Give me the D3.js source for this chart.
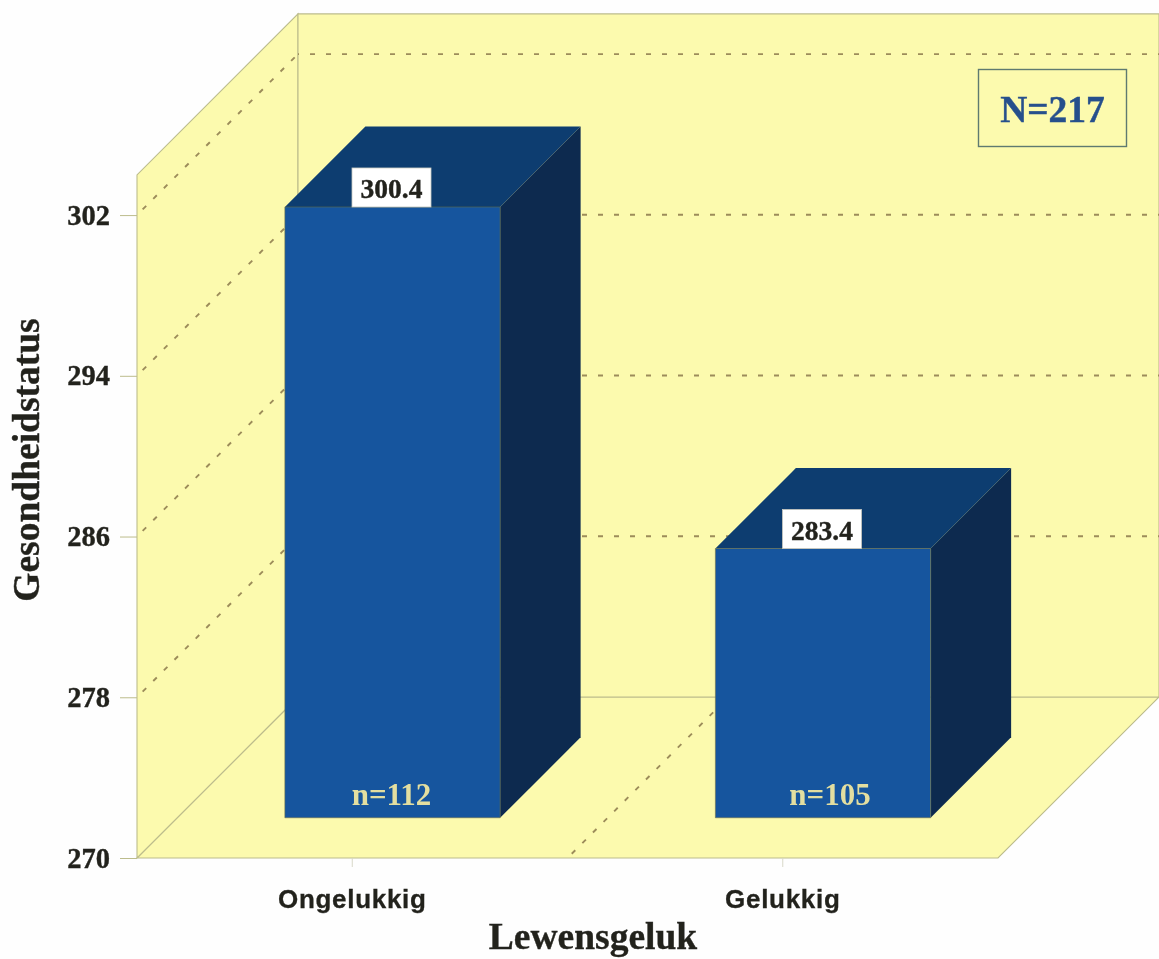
<!DOCTYPE html>
<html><head><meta charset="utf-8">
<script src="https://cdn.jsdelivr.net/npm/d3@7"></script>
<style>html,body{margin:0;padding:0;background:#fefefe}svg{display:block}</style>
</head><body><svg id="c" width="1159" height="959"></svg>
<script>
const categories = ["Ongelukkig", "Gelukkig"];
const values = [300.4, 283.4];
const valueLabels = ["300.4", "283.4"];
const counts = ["n=112", "n=105"];
const yTicks = [270, 278, 286, 294, 302];
const gridValues = [278, 286, 294, 302];
const axisFloor = 270, wallTop = 304;
const totalLabel = "N=217";
const xTitle = "Lewensgeluk", yTitle = "Gesondheidstatus";

const COL = {wall:"#fcfaae", edge:"#bcbc8c", dash:"#9c8c5a", front:"#12559e", top:"#0a3d70", side:"#0d2c50", ink:"#24241f", count:"#e3dea0"};
const SERIF = "'Liberation Serif', serif", SANS = "'Liberation Sans', sans-serif";
const countShift = {"Ongelukkig":0, "Gelukkig":8};

const svg = d3.select("#c");
const x = d3.scaleBand().domain(categories).range([137, 998]).paddingInner(0.5).paddingOuter(0.25);
const y = d3.scaleLinear().domain([axisFloor, wallTop]).range([858, 174.9]);
const depth = d3.scaleLinear().domain([0, 1]).range([0, 161]);
const P = (px, v, z) => [px + depth(z), y(v) - depth(z)];
const poly = pts => d3.line()(pts) + "Z";
const xL = x.range()[0], xR = x.range()[1], xMid = (xL + xR) / 2;

const root = svg.append("g").attr("filter", "url(#soft)");
svg.append("defs").append("filter").attr("id", "soft")
  .attr("filterUnits", "userSpaceOnUse").attr("x", 0).attr("y", 0).attr("width", 1159).attr("height", 959)
  .append("feGaussianBlur").attr("stdDeviation", 0.45);

// walls and floor
[[P(xL,axisFloor,0),P(xL,axisFloor,1),P(xR,axisFloor,1),P(xR,axisFloor,0)],
 [P(xL,axisFloor,0),P(xL,wallTop,0),P(xL,wallTop,1),P(xL,axisFloor,1)],
 [P(xL,axisFloor,1),P(xL,wallTop,1),P(xR,wallTop,1),P(xR,axisFloor,1)]].forEach(pts =>
  root.append("path").attr("d", poly(pts)).attr("fill", COL.wall).attr("stroke", COL.edge).attr("stroke-width", 1.1));

// dashed grid
const dash = root.append("g").attr("fill","none").attr("stroke",COL.dash).attr("stroke-width",1.9).attr("stroke-dasharray","5 11");
gridValues.forEach(v => {
  dash.append("path").attr("d", d3.line()([P(xL,v,0),P(xL,v,1)])).attr("stroke-dasharray","5 10").attr("stroke-dashoffset",-8);
  dash.append("path").attr("d", d3.line()([P(xL,v,1),P(xR,v,1)])).attr("stroke-dashoffset",-12);
});
dash.append("path").attr("d", d3.line()([P(xMid,axisFloor,0),P(xMid,axisFloor,1)])).attr("stroke-dasharray","5 10").attr("stroke-dashoffset",-6);

// axes
const yAxis = root.append("g").attr("transform",`translate(${xL},0)`)
  .call(d3.axisLeft(y).tickValues(yTicks).tickFormat(d3.format("d")).tickSize(17).tickPadding(10));
yAxis.select(".domain").remove();
yAxis.selectAll("line").attr("stroke",COL.edge).attr("stroke-width",1);
yAxis.selectAll("text").attr("font-family",SERIF).attr("font-weight","bold").attr("font-size",28.5).attr("fill",COL.ink).attr("stroke",COL.ink).attr("stroke-width",0.35);

const xAxis = root.append("g").attr("transform","translate(0,858)")
  .call(d3.axisBottom(x).tickSize(9).tickPadding(23));
xAxis.select(".domain").remove();
xAxis.selectAll("line").attr("stroke","#d8d8c8").attr("stroke-width",1);
xAxis.selectAll("text").attr("font-family",SANS).attr("font-weight","bold").attr("font-size",26).attr("fill",COL.ink).attr("letter-spacing",0.7).attr("stroke",COL.ink).attr("stroke-width",0.3);

// bars
const bars = root.selectAll("g.bar").data(categories.map((c,i)=>({c,v:values[i],lab:valueLabels[i],n:counts[i]}))).join("g").attr("class","bar");
const L = d => x(d.c), R = d => x(d.c)+x.bandwidth();
const z0 = 0.25, z1 = 0.75;
bars.append("path").attr("fill",COL.top).attr("d",d=>poly([P(L(d),d.v,z0),P(R(d),d.v,z0),P(R(d),d.v,z1),P(L(d),d.v,z1)]));
bars.append("path").attr("fill",COL.side).attr("d",d=>poly([P(R(d),axisFloor,z0),P(R(d),d.v,z0),P(R(d),d.v,z1),P(R(d),axisFloor,z1)]));
bars.append("path").attr("fill",COL.front).attr("stroke","#6d6f4a").attr("stroke-width",0.6).attr("d",d=>poly([P(L(d),axisFloor,z0),P(L(d),d.v,z0),P(R(d),d.v,z0),P(R(d),axisFloor,z0)]));

const cx = d => (L(d)+R(d))/2 + depth(z0) - 1;
bars.append("rect").attr("x",d=>cx(d)-39.5).attr("width",79).attr("height",39)
  .attr("y",d=>P(0,d.v,z0)[1]-39).attr("fill","#fff").attr("stroke","#c9c9c0").attr("stroke-width",0.8);
bars.append("text").text(d=>d.lab).attr("x",d=>cx(d)).attr("y",d=>P(0,d.v,z0)[1]-9)
  .attr("text-anchor","middle").attr("font-family",SERIF).attr("font-weight","bold").attr("font-size",27.5).attr("fill",COL.ink).attr("stroke",COL.ink).attr("stroke-width",0.4);
bars.append("text").text(d=>d.n).attr("x",d=>cx(d)+countShift[d.c]).attr("y",d=>P(0,axisFloor,z0)[1]-13)
  .attr("text-anchor","middle").attr("font-family",SERIF).attr("font-weight","bold").attr("font-size",31).attr("fill",COL.count);

// N box
root.append("rect").attr("x",978.5).attr("y",69.5).attr("width",148).attr("height",77)
  .attr("fill","none").attr("stroke","#5f7a70").attr("stroke-width",1.4);
root.append("text").text(totalLabel).attr("x",1052.5).attr("y",122).attr("text-anchor","middle")
  .attr("font-family",SERIF).attr("font-weight","bold").attr("font-size",37.5).attr("fill","#27508c").attr("stroke","#27508c").attr("stroke-width",0.4);

// titles
root.append("text").text(xTitle).attr("x",593).attr("y",949).attr("text-anchor","middle")
  .attr("font-family",SERIF).attr("font-weight","bold").attr("font-size",37.5).attr("fill",COL.ink).attr("stroke",COL.ink).attr("stroke-width",0.35);
root.append("text").text(yTitle).attr("transform","translate(39,460) rotate(-90)").attr("text-anchor","middle")
  .attr("font-family",SERIF).attr("font-weight","bold").attr("font-size",37.5).attr("fill",COL.ink).attr("stroke",COL.ink).attr("stroke-width",0.35);
</script></body></html>
